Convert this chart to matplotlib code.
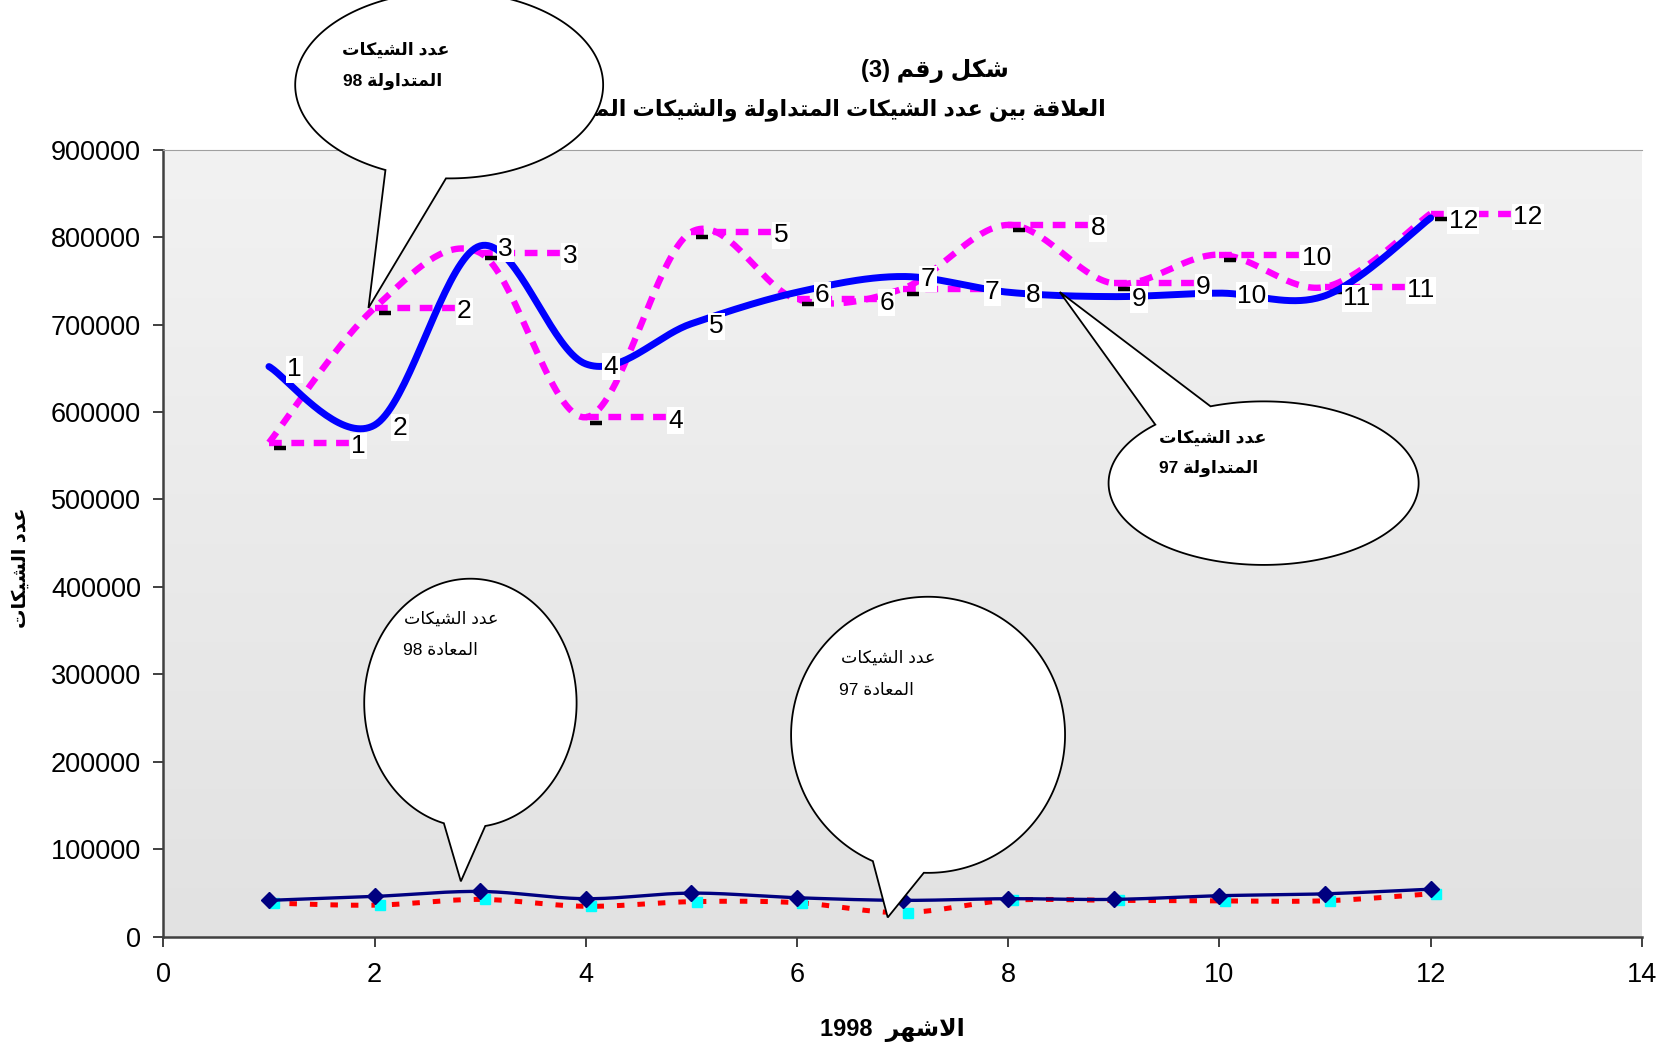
import numpy as np
import matplotlib
matplotlib.use("Agg")
import matplotlib.pyplot as plt
from matplotlib.patches import Polygon
from matplotlib.colors import LinearSegmentedColormap

# ---------------- data ----------------
months = [1, 2, 3, 4, 5, 6, 7, 8, 9, 10, 11, 12]
traded_97 = [652000, 585000, 790000, 655000, 701000, 737000, 755000, 737000, 732000, 736000, 733000, 822000]
traded_98 = [565000, 719000, 782000, 594000, 806000, 729000, 741000, 814000, 747000, 780000, 743000, 827000]
returned_98 = [41500, 46000, 51700, 43400, 49800, 44500, 41500, 43400, 42600, 46800, 49000, 54300]
returned_97 = [38500, 36000, 42600, 34700, 40000, 38900, 27500, 41500, 41500, 41000, 41000, 49000]
point_labels = [str(m) for m in months]

x_ticks = [0, 2, 4, 6, 8, 10, 12, 14]
y_ticks = [0, 100000, 200000, 300000, 400000, 500000, 600000, 700000, 800000, 900000]

title_1 = "شكل رقم (3)"
title_2 = "العلاقة بين عدد الشيكات المتداولة والشيكات المعادة"
x_label = "الاشهر  1998"
y_label = "عدد الشيكات"
callout_traded_98 = ["عدد الشيكات", "المتداولة 98"]
callout_traded_97 = ["عدد الشيكات", "المتداولة 97"]
callout_returned_98 = ["عدد الشيكات", "المعادة 98"]
callout_returned_97 = ["عدد الشيكات", "المعادة 97"]

# ---------------- Arabic shaping (presentation forms + visual order) ----------------
DUAL = {'ب': 0xFE8F, 'ت': 0xFE95, 'ث': 0xFE99, 'ج': 0xFE9D, 'ح': 0xFEA1, 'خ': 0xFEA5,
        'س': 0xFEB1, 'ش': 0xFEB5, 'ص': 0xFEB9, 'ض': 0xFEBD, 'ط': 0xFEC1, 'ظ': 0xFEC5,
        'ع': 0xFEC9, 'غ': 0xFECD, 'ف': 0xFED1, 'ق': 0xFED5, 'ك': 0xFED9, 'ل': 0xFEDD,
        'م': 0xFEE1, 'ن': 0xFEE5, 'ه': 0xFEE9, 'ي': 0xFEF1}
RIGHT = {'ا': 0xFE8D, 'أ': 0xFE83, 'إ': 0xFE87, 'آ': 0xFE81, 'ة': 0xFE93, 'د': 0xFEA9,
         'ذ': 0xFEAB, 'ر': 0xFEAD, 'ز': 0xFEAF, 'و': 0xFEED, 'ى': 0xFEEF}
LAMALEF = {'ا': 0xFEFB, 'أ': 0xFEF7, 'إ': 0xFEF9, 'آ': 0xFEF5}


def ar(text):
    chars = list(text)
    n = len(chars)
    out = []
    i = 0
    while i < n:
        c = chars[i]
        if c not in DUAL and c not in RIGHT:
            out.append(c)
            i += 1
            continue
        prev = chars[i - 1] if i > 0 else None
        join_prev = prev in DUAL
        if c == 'ل' and i + 1 < n and chars[i + 1] in LAMALEF:
            out.append(chr(LAMALEF[chars[i + 1]] + (1 if join_prev else 0)))
            i += 2
            continue
        nxt = chars[i + 1] if i + 1 < n else None
        if c in DUAL:
            join_next = nxt is not None and (nxt in DUAL or nxt in RIGHT)
            base = DUAL[c]
            if join_prev and join_next:
                out.append(chr(base + 3))
            elif join_next:
                out.append(chr(base + 2))
            elif join_prev:
                out.append(chr(base + 1))
            else:
                out.append(chr(base))
        else:
            out.append(chr(RIGHT[c] + (1 if join_prev else 0)))
        i += 1
    rev = out[::-1]
    mirror = {'(': ')', ')': '('}
    rev = [mirror.get(c, c) for c in rev]
    res = []
    run = []
    for c in rev:
        if c.isascii() and c.isalnum():
            run.append(c)
        else:
            if run:
                res.extend(run[::-1])
                run = []
            res.append(c)
    if run:
        res.extend(run[::-1])
    return ''.join(res)


# ---------------- smoothing (Excel-like bezier) ----------------
def smooth(x, y, n=40):
    P = np.column_stack([np.asarray(x, float), np.asarray(y, float)])
    m = len(P)
    t = np.linspace(0, 1, n)[:, None]
    segs = []
    for i in range(m - 1):
        p0 = P[i - 1] if i > 0 else P[i]
        p1, p2 = P[i], P[i + 1]
        p3 = P[i + 2] if i + 2 < m else P[i + 1]
        c1 = p1 + (p2 - p0) / 6.0
        c2 = p2 - (p3 - p1) / 6.0
        seg = (1 - t) ** 3 * p1 + 3 * (1 - t) ** 2 * t * c1 + 3 * (1 - t) * t ** 2 * c2 + t ** 3 * p2
        segs.append(seg if i == 0 else seg[1:])
    s = np.vstack(segs)
    return s[:, 0], s[:, 1]


# ---------------- figure ----------------
FONT = ['Liberation Sans', 'DejaVu Sans']
plt.rcParams['font.family'] = FONT

W, H = 1665, 1047
fig = plt.figure(figsize=(W / 100, H / 100), dpi=100)
fig.patch.set_facecolor('white')
ax = fig.add_axes([0.0981, 0.1054, 0.888, 0.7516])

ax.set_xlim(0, 14)
ax.set_ylim(0, 900000)

# gradient plot area
cmap = LinearSegmentedColormap.from_list('bg', ['#e2e2e2', '#f2f2f2'])
grad = np.linspace(0, 1, 256).reshape(-1, 1)
ax.imshow(grad, extent=[0, 14, 0, 900000], origin='lower', aspect='auto', cmap=cmap, zorder=0)

mx = np.array(months, float)

# magenta dashed (traded 98)
sx, sy = smooth(mx, traded_98)
mag_style = dict(color='#FF00FF', lw=4.6, dashes=(2.0, 1.5), solid_capstyle='butt', zorder=3)
ax.plot(sx, sy, **mag_style)
for xv, yv in zip(mx, traded_98):
    ax.plot([xv, xv + 0.78], [yv, yv], **mag_style)
ax.plot(mx + 0.1, np.array(traded_98) - 6000, ls='none', marker='_', ms=8, mew=3.2,
        color='black', zorder=4)

# blue thick smooth (traded 97)
bx, by = smooth(mx, traded_97)
ax.plot(bx, by, color='#0000FF', lw=5.0, solid_capstyle='round', zorder=5)

# bottom: returned series
rx, ry = smooth(mx, returned_97)
ax.plot(rx, ry, color='#FF0000', lw=3.6, dashes=(1.5, 2.6), zorder=3)
ax.plot(mx + 0.05, returned_97, ls='none', marker='s', ms=6.5, mec='#00FFFF', mfc='#00FFFF',
        zorder=4)
nx, ny = smooth(mx, returned_98)
ax.plot(nx, ny, color='#000080', lw=2.4, zorder=5)
ax.plot(mx, returned_98, ls='none', marker='D', ms=8.5, color='#000080', zorder=6)

lab_font = dict(fontsize=19, color='black', family=FONT)
box = dict(facecolor='white', edgecolor='none', pad=1.0)
for xv, yv, lab in zip(mx, traded_98, point_labels):
    ax.text(xv + 0.78, yv - 4000, lab, ha='left', va='center', bbox=box, zorder=7, **lab_font)
for xv, yv, lab in zip(mx, traded_97, point_labels):
    ax.text(xv + 0.17, yv - 3000, lab, ha='left', va='center', bbox=box, zorder=7, **lab_font)

# axes styling
ax.set_xticks(x_ticks)
ax.set_yticks(y_ticks)
ax.set_xticklabels([str(v) for v in x_ticks])
ax.set_yticklabels([str(v) for v in y_ticks])
ax.tick_params(axis='both', labelsize=19.5, length=7, width=1.3, color='#303030', direction='out')
ax.tick_params(axis='y', pad=9)
ax.tick_params(axis='x', pad=11)
for s in ['left', 'bottom']:
    ax.spines[s].set_color('#404040')
    ax.spines[s].set_linewidth(1.8)
ax.spines['top'].set_color('#a0a0a0')
ax.spines['top'].set_linewidth(0.8)
ax.spines['right'].set_visible(False)


def fx(X):
    return X / 1568.0


def fy(Y):
    return 1 - Y / 986.0


fig.text(fx(880), fy(67), ar(title_1), ha='center', va='center', fontsize=17, fontweight='bold',
         zorder=5)
fig.text(fx(1041), fy(103), ar(title_2), ha='right', va='center', fontsize=16, fontweight='bold',
         zorder=5)
fig.text(fx(840), fy(970), ar(x_label), ha='center', va='center', fontsize=17, fontweight='bold')
fig.text(fx(20), fy(535), ar(y_label), ha='center', va='center', fontsize=14, fontweight='bold',
         rotation=90)


def callout(cx, cy, a, b, bx1, bx2, tip, lower, lines, text_xy, weight):
    if lower:
        t1 = np.arccos((bx1 - cx) / a)
        t2 = np.arccos((bx2 - cx) / a)
    else:
        t1 = -np.arccos((bx1 - cx) / a)
        t2 = -np.arccos((bx2 - cx) / a)
    ta, tb = min(t1, t2), max(t1, t2)
    th = np.linspace(tb, ta + 2 * np.pi, 300)
    X = cx + a * np.cos(th)
    Y = cy + b * np.sin(th)
    pts = np.column_stack([fx(X), fy(Y)])
    pts = np.vstack([pts, [fx(tip[0]), fy(tip[1])]])
    poly = Polygon(pts, closed=True, facecolor='white', edgecolor='black', lw=1.3,
                   transform=fig.transFigure, zorder=10)
    fig.add_artist(poly)
    for (tx, ty), line in zip(text_xy, lines):
        fig.text(fx(tx), fy(ty), ar(line), ha='center', va='center', fontsize=12.5,
                 fontweight=weight, zorder=11)


callout(423, 80, 145, 88, 363, 420, (347, 290), True, callout_traded_98,
        [(373, 47), (370, 77)], 'bold')
callout(1190, 455, 146, 77, 1088, 1140, (998, 275), False, callout_traded_97,
        [(1142, 412), (1138, 441)], 'bold')
callout(443, 662, 100, 117, 418, 457, (434, 830), True, callout_returned_98,
        [(425, 583), (415, 613)], 'normal')
callout(874, 692, 129, 130, 822, 870, (836, 864), True, callout_returned_97,
        [(836, 620), (825, 650)], 'normal')

fig.savefig('out.png', dpi=100, facecolor='white')
